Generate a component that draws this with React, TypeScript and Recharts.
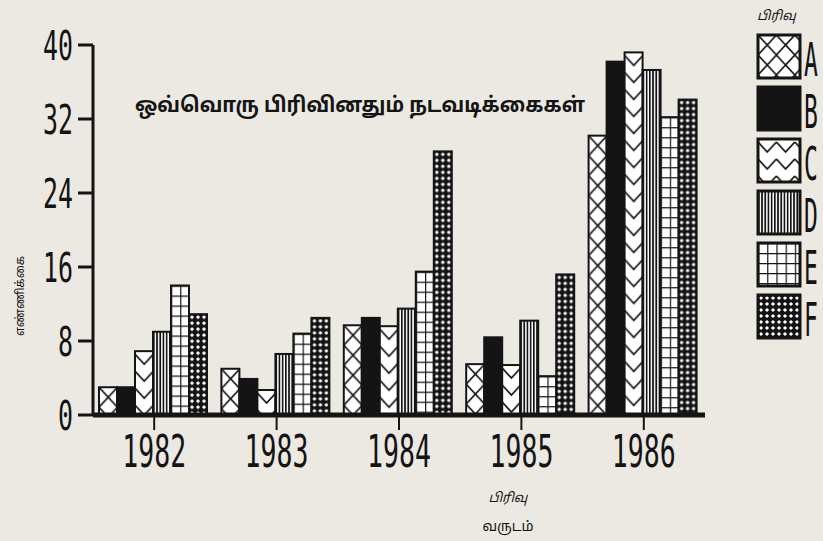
import React from "react";
import { BarChart, Bar, XAxis, YAxis } from "recharts";

const years = ["1982", "1983", "1984", "1985", "1986"];
const seriesNames = ["A", "B", "C", "D", "E", "F"];

// values (units on the y axis)
const valuesA = [3, 5, 9.7, 5.5, 30.2];
const valuesB = [3, 3.9, 10.5, 8.4, 38.2];
const valuesC = [6.9, 2.7, 9.6, 5.4, 39.2];
const valuesD = [9, 6.6, 11.5, 10.2, 37.3];
const valuesE = [14, 8.8, 15.5, 4.2, 32.2];
const valuesF = [10.9, 10.5, 28.5, 15.2, 34.1];

const yTicks = [0, 8, 16, 24, 32, 40];

const title = "ஒவ்வொரு பிரிவினதும் நடவடிக்கைகள்";
const yLabel = "எண்ணிக்கை";
const legendTitle = "பிரிவு";
const xLabel = "வருடம்";

const fills: Record<string, string> = {
  A: "url(#patA)",
  B: "#141414",
  C: "url(#patC)",
  D: "url(#patD)",
  E: "url(#patE)",
  F: "url(#patF)",
};

const data = years.map((year, i) => ({
  year,
  A: valuesA[i],
  B: valuesB[i],
  C: valuesC[i],
  D: valuesD[i],
  E: valuesE[i],
  F: valuesF[i],
}));

const ink = "#141414";
const paper = "#ebe9e2";
const tickFont = "'DejaVu Sans Mono', monospace";
const tamilFont = "'Noto Sans Tamil', 'Noto Sans', 'DejaVu Sans', sans-serif";

function Patterns() {
  return (
    <svg width={0} height={0} style={{ position: "absolute" }}>
      <defs>
        <pattern id="patA" patternUnits="userSpaceOnUse" width={18.4} height={20}>
          <rect width={18.4} height={20} fill="#fff" />
          <path d="M0,0 L18.4,20 M18.4,0 L0,20" stroke={ink} strokeWidth={1.6} />
        </pattern>
        <pattern id="patC" patternUnits="userSpaceOnUse" width={18.4} height={17}>
          <rect width={18.4} height={17} fill="#fff" />
          <path d="M0,3 L9.2,13 L18.4,3" stroke={ink} strokeWidth={1.8} fill="none" />
        </pattern>
        <pattern id="patD" patternUnits="userSpaceOnUse" width={3.2} height={10}>
          <rect width={3.2} height={10} fill="#fff" />
          <rect x={0} width={1.7} height={10} fill={ink} />
        </pattern>
        <pattern id="patE" patternUnits="userSpaceOnUse" width={9.2} height={10}>
          <rect width={9.2} height={10} fill="#fff" />
          <path d="M0,0 H9.2 M0,0 V10" stroke={ink} strokeWidth={2.4} />
        </pattern>
        <pattern id="patF" patternUnits="userSpaceOnUse" width={6} height={6}>
          <rect width={6} height={6} fill={ink} />
          <polygon points="3,0.9 5.1,3 3,5.1 0.9,3" fill="#fff" />
        </pattern>
      </defs>
    </svg>
  );
}

// bar drawn in its own viewport so the pattern starts at the bar's corner
function PatternBar(props: any) {
  const { x, y, width, height, fill } = props;
  if (!height || height <= 0) return null;
  return (
    <g>
      <svg x={x} y={y} width={width} height={height} overflow="hidden">
        <rect x={0} y={0} width={width} height={height} fill={fill} />
      </svg>
      <rect x={x} y={y} width={width} height={height} fill="none" stroke={ink} strokeWidth={2} />
    </g>
  );
}

function YearTick(props: any) {
  const { x, y, payload } = props;
  return (
    <text
      x={x}
      y={y + 35}
      textAnchor="middle"
      fontFamily={tickFont}
      fontSize={44}
      textLength={64}
      lengthAdjust="spacingAndGlyphs"
      fill={ink}
    >
      {payload.value}
    </text>
  );
}

function CountTick(props: any) {
  const { x, y, payload } = props;
  const s = String(payload.value);
  return (
    <text
      x={x - 3}
      y={y + 15}
      textAnchor="end"
      fontFamily={tickFont}
      fontSize={41}
      textLength={s.length * 15}
      lengthAdjust="spacingAndGlyphs"
      fill={ink}
    >
      {s}
    </text>
  );
}

function LegendBox() {
  return (
    <svg
      width={83}
      height={370}
      style={{ position: "absolute", left: 740, top: 0 }}
    >
      <text x={17} y={20} fontFamily={tamilFont} fontStyle="italic" fontSize={13} fill={ink}>
        {legendTitle}
      </text>
      {seriesNames.map((name, i) => {
        const top = 35 + 52 * i;
        return (
          <g key={name}>
            <svg x={18} y={top} width={42} height={43} overflow="hidden">
              <rect x={0} y={0} width={42} height={43} fill={fills[name]} />
            </svg>
            <rect x={18} y={top} width={42} height={43} fill="none" stroke={ink} strokeWidth={3} />
            <text
              transform={`translate(64,${top + 41}) scale(0.5,1)`}
              fontFamily={tickFont}
              fontSize={46}
              fill={ink}
            >
              {name}
            </text>
          </g>
        );
      })}
    </svg>
  );
}

export default function App() {
  return (
    <div
      style={{
        position: "absolute",
        left: 0,
        top: 0,
        width: 823,
        height: 541,
        background: paper,
        overflow: "hidden",
      }}
    >
      <Patterns />
      <BarChart
        width={823}
        height={541}
        data={data}
        margin={{ top: 45, right: 118, bottom: 96, left: 0 }}
        barCategoryGap={6}
        barGap={0}
      >
        <XAxis
          dataKey="year"
          height={30}
          axisLine={{ stroke: ink, strokeWidth: 5 }}
          tickLine={{ stroke: ink, strokeWidth: 2 }}
          tickSize={15}
          tick={<YearTick />}
          interval={0}
        />
        <YAxis
          width={93}
          domain={[0, 40]}
          ticks={yTicks}
          axisLine={{ stroke: ink, strokeWidth: 3 }}
          tickLine={{ stroke: ink, strokeWidth: 3 }}
          tickSize={15}
          tick={<CountTick />}
        />
        {seriesNames.map((name) => (
          <Bar
            key={name}
            dataKey={name}
            fill={fills[name]}
            shape={<PatternBar />}
            isAnimationActive={false}
          />
        ))}
      </BarChart>
      <LegendBox />
      <svg
        width={823}
        height={541}
        style={{ position: "absolute", left: 0, top: 0, pointerEvents: "none" }}
      >
        <text
          x={135}
          y={112}
          fontFamily={tamilFont}
          fontWeight="bold"
          fontSize={21}
          textLength={450}
          lengthAdjust="spacingAndGlyphs"
          fill={ink}
        >
          {title}
        </text>
        <text
          x={0}
          y={0}
          transform="translate(24,296) rotate(-90)"
          textAnchor="middle"
          fontFamily={tamilFont}
          fontSize={12}
          textLength={80}
          lengthAdjust="spacingAndGlyphs"
          fill={ink}
        >
          {yLabel}
        </text>
        <text
          x={508}
          y={502}
          textAnchor="middle"
          fontFamily={tamilFont}
          fontStyle="italic"
          fontSize={13}
          fill={ink}
        >
          {legendTitle}
        </text>
        <text
          x={508}
          y={531}
          textAnchor="middle"
          fontFamily={tamilFont}
          fontSize={14}
          fill={ink}
        >
          {xLabel}
        </text>
      </svg>
    </div>
  );
}
